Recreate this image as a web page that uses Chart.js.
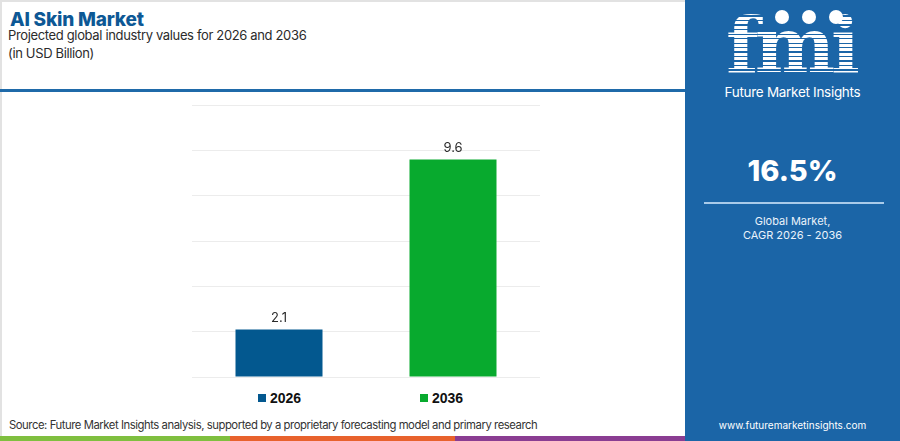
<!DOCTYPE html>
<html>
<head>
<meta charset="utf-8">
<script src="https://cdn.jsdelivr.net/npm/chart.js@4.4.1/dist/chart.umd.min.js"></script>
<style>
  body { margin: 0; width: 900px; height: 441px; overflow: hidden; background: #fff; position: relative; font-family: Inter, "Open Sans", sans-serif; }
  .frame { position: absolute; left: 0; top: 0; width: 685px; height: 441px; border-top: 2px solid #e2e2e2; border-left: 2px solid #e2e2e2; box-sizing: border-box; }
  .title { position: absolute; left: 10px; top: 8px; font-size: 19px; font-weight: 800; color: #0d5895; letter-spacing: -0.2px; }
  .sub { position: absolute; left: 8px; top: 26px; font-size: 13px; color: #2b2b2b; line-height: 18px; letter-spacing: -0.35px; }
  .topline { position: absolute; left: 0; top: 89px; width: 685px; height: 3px; background: #1f6aa9; }
  .chartbox { position: absolute; left: 192px; top: 98px; width: 348px; height: 287px; }
  .legend { position: absolute; top: 390px; left: 0; width: 685px; height: 16px; }
  .legend .item { position: absolute; display: flex; align-items: center; font-family: "Liberation Sans", Arial, sans-serif; font-weight: bold; font-size: 14px; color: #111; }
  .legend .box { width: 8px; height: 8px; margin-right: 4px; }
  .source { position: absolute; left: 9px; top: 418px; font-size: 11.3px; color: #333; letter-spacing: -0.45px; }
  .strip { position: absolute; top: 436px; height: 5px; }
  .panel { position: absolute; left: 685px; top: 0; width: 215px; height: 441px; background: #1b65a7; color: #fff; text-align: center; }
  .logo { position: absolute; left: 36px; top: 8px; width: 140px; font-family: "DejaVu Serif", serif; font-weight: bold; font-size: 76px; line-height: 76px; letter-spacing: -4px;
          background: repeating-linear-gradient(to bottom, #fff 0 3px, #1b65a7 3px 4.5px); -webkit-background-clip: text; background-clip: text; color: transparent; }
  .dot { position: absolute; top: 10px; width: 14px; height: 14px; border-radius: 50%; background: #fff; }
  .fmi-name { position: absolute; left: 0; width: 215px; top: 84px; font-size: 13.5px; letter-spacing: -0.3px; }
  .cagr { position: absolute; left: 0; width: 215px; top: 153px; font-size: 29px; font-weight: 800; }
  .rule { position: absolute; left: 19px; top: 202px; width: 180px; height: 2px; background: #a9cbea; }
  .cap { position: absolute; left: 0; width: 215px; top: 214px; font-size: 11px; line-height: 14px; color: #eaf2fb; }
  .url { position: absolute; left: 0; width: 215px; top: 419px; font-size: 10px; color: #fff; }
</style>
</head>
<body>
<div class="frame"></div>
<div class="title">AI Skin Market</div>
<div class="sub">Projected global industry values for 2026 and 2036<br>(in USD Billion)</div>
<div class="topline"></div>

<div class="chartbox"><canvas id="chart"></canvas></div>
<div class="legend" id="legend"></div>

<div class="source">Source: Future Market Insights analysis, supported by a proprietary forecasting model and primary research</div>
<div class="strip" style="left:0;width:230px;background:#7fbf3f"></div>
<div class="strip" style="left:230px;width:225px;background:#e8622d"></div>
<div class="strip" style="left:455px;width:230px;background:#8a3d92"></div>

<div class="panel">
  <div class="logo">fmi</div>
  <div class="dot" style="left:90px"></div>
  <div class="dot" style="left:117px"></div>
  <div class="dot" style="left:144px"></div>
  <div class="fmi-name">Future Market Insights</div>
  <div class="cagr">16.5%</div>
  <div class="rule"></div>
  <div class="cap">Global Market,<br>CAGR 2026 - 2036</div>
  <div class="url">www.futuremarketinsights.com</div>
</div>

<script>
// values (USD Billion)
const years = ["2026", "2036"];
const values = [2.1, 9.6];
const colors = ["#03588f", "#08aa2e"];
const yTicks = [0, 2, 4, 6, 8, 10, 12];
const legendLeft = [258, 420];

// one dataset per year so each bar gets its own legend entry
const datasets = years.map((yr, i) => ({
  label: yr,
  data: years.map((_, j) => (j === i ? values[i] : null)),
  backgroundColor: colors[i],
  borderWidth: 0,
  barPercentage: 1,
  categoryPercentage: 0.5,
}));

// value labels above bars
const barLabels = {
  id: "barLabels",
  afterDatasetsDraw(chart) {
    const ctx = chart.ctx;
    ctx.save();
    ctx.font = "13px Inter, 'Open Sans', sans-serif";
    ctx.fillStyle = "#2b2b2b";
    ctx.textAlign = "center";
    ctx.textBaseline = "bottom";
    chart.data.datasets.forEach((ds, i) => {
      chart.getDatasetMeta(i).data.forEach((bar, j) => {
        if (ds.data[j] == null) return;
        ctx.fillText(ds.data[j].toFixed(1), bar.x, bar.y - 5);
      });
    });
    ctx.restore();
  },
};

new Chart(document.getElementById("chart"), {
  type: "bar",
  data: { labels: years, datasets: datasets },
  options: {
    responsive: true,
    maintainAspectRatio: false,
    animation: false,
    skipNull: true,
    layout: { padding: { top: 7, left: 0, right: 0, bottom: 0 } },
    plugins: { legend: { display: false }, tooltip: { enabled: false } },
    scales: {
      x: {
        ticks: { display: false },
        grid: { display: false },
        border: { display: false },
      },
      y: {
        min: yTicks[0],
        max: yTicks[yTicks.length - 1],
        ticks: { display: false, stepSize: yTicks[1] - yTicks[0] },
        grid: { color: "#ececec", drawTicks: false },
        border: { display: false },
      },
    },
  },
  plugins: [barLabels],
});

// legend
const legend = document.getElementById("legend");
years.forEach((yr, i) => {
  const item = document.createElement("div");
  item.className = "item";
  item.style.left = legendLeft[i] + "px";
  item.innerHTML = '<span class="box" style="background:' + colors[i] + '"></span>' + yr;
  legend.appendChild(item);
});
</script>
</body>
</html>
